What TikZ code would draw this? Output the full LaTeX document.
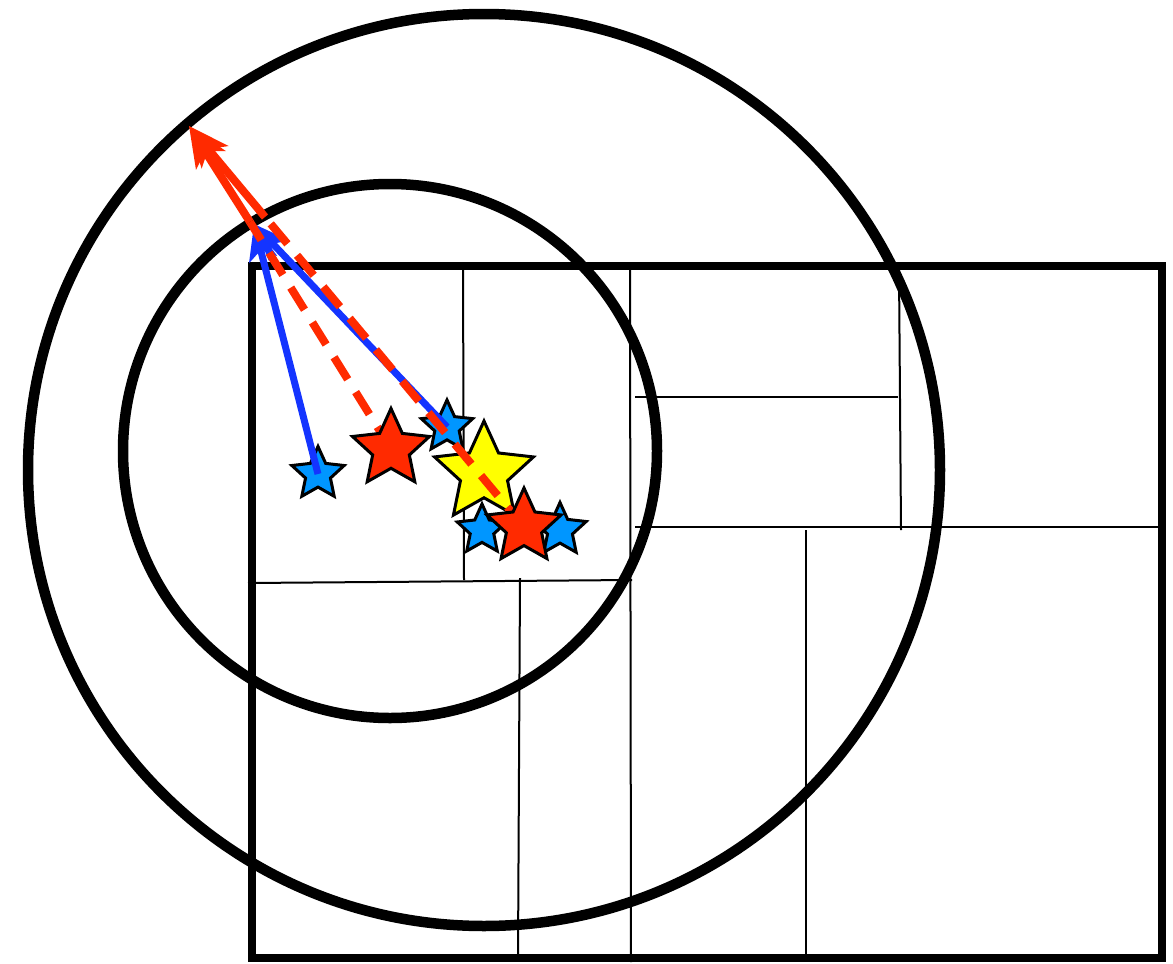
\documentclass[tikz,border=0pt]{standalone}
\usetikzlibrary{shapes.geometric,arrows.meta}
\definecolor{rred}{RGB}{255,42,0}
\definecolor{bblue}{RGB}{20,52,255}
\definecolor{sblue}{RGB}{0,150,255}
\definecolor{syellow}{RGB}{255,255,0}
\begin{document}
\begin{tikzpicture}[x=1pt,y=-1pt,
  thinline/.style={line width=2pt,black},
  bigline/.style={line width=10.5pt,black},
  starbase/.style={star,star points=5,star point ratio=2.1,draw=black,line width=3pt,inner sep=0pt,outer sep=0pt},
  bstar/.style={starbase,fill=sblue},
  rstar/.style={starbase,fill=rred},
  ystar/.style={starbase,fill=syellow},
  bluearrow/.style={line width=7pt,bblue,-{Stealth[length=36pt,width=28pt,inset=9pt]}},
  reddash/.style={line width=8pt,rred,dash pattern=on 26pt off 15pt},
  redarrow/.style={line width=8pt,rred,-{Stealth[length=40pt,width=34pt,inset=10pt]}}]
\useasboundingbox (0,0) rectangle (1173,964);
% grid lines inside the box
\draw[thinline] (463,266) -- (464,580);
\draw[thinline] (630,270) -- (631,962);
\draw[thinline] (248,583) -- (632,580);
\draw[thinline] (520,578) -- (518,957);
\draw[thinline] (635,397) -- (898,397);
\draw[thinline] (899,270) -- (901,530);
\draw[thinline] (635,527) -- (1162,527);
\draw[thinline] (806,530) -- (806,957);
% frame
\draw[line width=8.5pt] (252,266) rectangle (1162,958);
% circles
\draw[bigline] (484,470) circle[radius=456pt];
\draw[bigline] (390,451) circle[radius=267pt];
% points
\coordinate (vb) at (254,224);
\coordinate (v1) at (250,222);
\coordinate (v2) at (265,217);
\coordinate (tip) at (189,126);
% stars (lower layer)
\node[bstar,minimum size=55pt] (b1) at (318,474) {};
\node[bstar,minimum size=54pt] (b2) at (447,427) {};
\node[bstar,minimum size=52pt] (b3) at (482,530) {};
\node[bstar,minimum size=55pt] (b4) at (560,530) {};
\node[ystar,minimum size=104pt] (y1) at (484,473) {};
% blue arrows
\draw[bluearrow] (b1.center) -- (vb);
\draw[bluearrow] (b2.center) -- (vb);
% red dashed and red arrows
\draw[reddash] (391,449) -- (v1);
\draw[reddash] (524,527) -- (v2);
\draw[redarrow] (v1) -- (tip);
\draw[redarrow] (v2) -- (tip);
% red stars on top
\node[rstar,minimum size=81pt] (r1) at (391,449) {};
\node[rstar,minimum size=78pt] (r2) at (524,527) {};
\end{tikzpicture}
\end{document}
